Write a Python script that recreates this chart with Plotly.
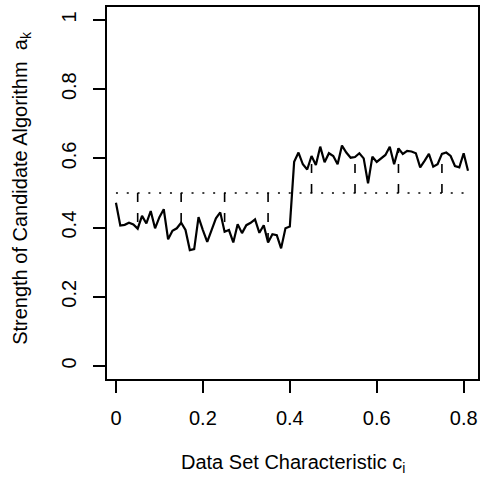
import plotly.graph_objects as go

# ---- data ----
c_values = [round(i * 0.01, 2) for i in range(82)]
strength = [
    0.472, 0.406, 0.408, 0.414, 0.409, 0.397, 0.434, 0.412, 0.448, 0.398,
    0.430, 0.453, 0.366, 0.391, 0.398, 0.414, 0.393, 0.335, 0.338, 0.430,
    0.393, 0.359, 0.393, 0.427, 0.444, 0.388, 0.393, 0.357, 0.410, 0.384,
    0.407, 0.414, 0.424, 0.385, 0.407, 0.357, 0.381, 0.378, 0.340, 0.398,
    0.403, 0.590, 0.617, 0.583, 0.568, 0.607, 0.581, 0.634, 0.589, 0.615,
    0.607, 0.583, 0.637, 0.617, 0.602, 0.604, 0.615, 0.600, 0.528, 0.605,
    0.590, 0.600, 0.610, 0.634, 0.583, 0.629, 0.613, 0.622, 0.620, 0.615,
    0.574, 0.593, 0.613, 0.576, 0.583, 0.613, 0.617, 0.607, 0.578, 0.574,
    0.615, 0.564,
]
threshold = 0.5
marker_idx = [5, 15, 25, 35, 45, 55, 65, 75]
x_ticks = [0, 0.2, 0.4, 0.6, 0.8]
x_tick_text = ["0", "0.2", "0.4", "0.6", "0.8"]
y_ticks = [0, 0.2, 0.4, 0.6, 0.8, 1]
y_tick_text = ["0", "0.2", "0.4", "0.6", "0.8", "1"]

FONT = "Liberation Sans, Arial, Helvetica, sans-serif"

fig = go.Figure()

# dotted threshold line
fig.add_trace(go.Scatter(
    x=[c_values[0], c_values[-1]], y=[threshold, threshold], mode="lines",
    line=dict(color="black", width=1.6, dash="2px,8.8px"), hoverinfo="skip"))

# dashed vertical segments from threshold to the curve
for i in marker_idx:
    fig.add_trace(go.Scatter(
        x=[c_values[i], c_values[i]], y=[threshold, strength[i]], mode="lines",
        line=dict(color="black", width=1.6, dash="9px,11px"), hoverinfo="skip"))

# main line
fig.add_trace(go.Scatter(
    x=c_values, y=strength, mode="lines",
    line=dict(color="black", width=2.2)))

fig.update_layout(
    width=481, height=484,
    margin=dict(l=107, r=1, t=7, b=105),
    paper_bgcolor="white", plot_bgcolor="white",
    showlegend=False,
    font=dict(family=FONT, size=20, color="black"),
    xaxis=dict(
        range=[-0.0206, 0.833], tickvals=x_ticks, ticktext=x_tick_text,
        showgrid=False, zeroline=False, showline=True, mirror=True,
        linecolor="black", linewidth=1.5, ticks="outside", ticklen=12,
        tickwidth=1.5, tickcolor="black", ticklabelstandoff=8,
        tickfont=dict(size=20, family=FONT, color="black"),
    ),
    yaxis=dict(
        range=[-0.0376, 1.0376], tickvals=y_ticks, ticktext=y_tick_text,
        showgrid=False, zeroline=False, showline=True, mirror=True,
        linecolor="black", linewidth=1.5, ticks="outside", ticklen=12,
        tickwidth=1.5, tickcolor="black", tickangle=-90, ticklabelstandoff=9,
        tickfont=dict(size=20, family=FONT, color="black"),
    ),
    annotations=[
        dict(text="Data Set Characteristic c<sub>i</sub>", xref="paper", yref="paper",
             x=0.5, y=-0.228, xanchor="center", yanchor="middle", showarrow=False,
             font=dict(size=20, family=FONT, color="black")),
        dict(text="Strength of Candidate Algorithm  a<sub>k</sub>", xref="paper", yref="paper",
             x=-0.2306, y=0.515, xanchor="center", yanchor="middle", textangle=-90,
             showarrow=False, font=dict(size=20, family=FONT, color="black")),
    ],
)

fig.write_html("out.html", config={"displayModeBar": False},
               post_script="document.body.style.margin='0px';")
